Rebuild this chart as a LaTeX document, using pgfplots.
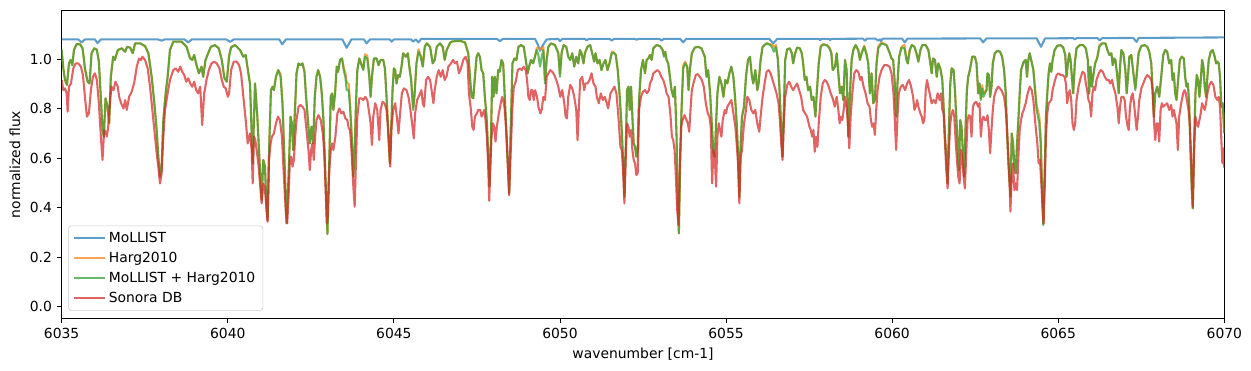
\documentclass[border=0pt]{standalone}
\usepackage{fontspec}
\setmainfont{DejaVu Sans}
\usepackage{pgfplots}
\usepackage{pgfplotstable}
\pgfplotsset{compat=1.18}
\definecolor{cblue}{HTML}{1F77B4}
\definecolor{corange}{HTML}{FF7F0E}
\definecolor{cgreen}{HTML}{2CA02C}
\definecolor{cred}{HTML}{D62728}

\pgfplotstableread{
w f
6035.00 1.080
6035.50 1.080
6035.60 1.068
6035.70 1.080
6036.00 1.080
6036.08 1.065
6036.18 1.080
6037.90 1.080
6038.01 1.075
6038.10 1.080
6038.70 1.080
6038.81 1.068
6038.92 1.080
6039.95 1.080
6040.07 1.070
6040.18 1.080
6041.55 1.080
6041.64 1.060
6041.75 1.080
6043.45 1.080
6043.58 1.046
6043.72 1.080
6044.10 1.080
6044.18 1.064
6044.28 1.080
6044.88 1.080
6044.93 1.071
6045.00 1.080
6045.52 1.080
6045.58 1.071
6045.66 1.080
6045.74 1.068
6045.82 1.082
6048.10 1.082
6048.19 1.073
6048.28 1.082
6049.25 1.082
6049.33 1.060
6049.40 1.034
6049.50 1.060
6049.60 1.080
6049.95 1.082
6050.00 1.073
6050.07 1.082
6050.75 1.082
6050.80 1.076
6050.86 1.082
6051.50 1.082
6051.56 1.075
6051.62 1.082
6052.25 1.082
6052.31 1.079
6052.37 1.082
6053.00 1.082
6053.06 1.075
6053.12 1.082
6053.62 1.082
6053.71 1.068
6053.80 1.082
6056.30 1.082
6056.42 1.064
6056.54 1.082
6057.80 1.082
6057.83 1.077
6057.87 1.082
6058.10 1.082
6058.13 1.077
6058.17 1.082
6059.12 1.083
6059.18 1.075
6059.24 1.083
6059.50 1.083
6059.58 1.075
6059.63 1.080
6059.66 1.073
6059.72 1.083
6060.30 1.083
6060.38 1.068
6060.46 1.083
6062.65 1.084
6062.74 1.068
6062.84 1.084
6064.35 1.084
6064.48 1.050
6064.60 1.084
6065.45 1.085
6065.50 1.080
6065.55 1.085
6066.18 1.085
6066.25 1.076
6066.32 1.085
6067.25 1.086
6067.30 1.079
6067.36 1.070
6067.42 1.086
6070.00 1.088
}\mollist

\pgfplotstableread{
w h m
6035.00 1.037 1.037
6035.05 0.963 0.963
6035.10 0.916 0.916
6035.16 0.896 0.896
6035.22 0.983 0.983
6035.27 0.997 0.997
6035.32 0.976 0.976
6035.37 1.037 1.037
6035.45 1.061 1.061
6035.55 1.062 1.060
6035.63 1.044 1.044
6035.70 0.963 0.963
6035.78 0.909 0.909
6035.84 0.902 0.902
6035.90 1.024 1.024
6035.98 1.044 1.044
6036.06 1.040 1.037
6036.12 0.990 0.990
6036.18 0.842 0.842
6036.23 0.714 0.714
6036.27 0.687 0.687
6036.32 0.842 0.842
6036.38 0.808 0.808
6036.43 0.741 0.741
6036.48 0.929 0.929
6036.55 1.010 1.010
6036.60 0.997 0.997
6036.69 1.037 1.037
6036.81 1.044 1.044
6036.91 1.030 1.030
6036.97 1.050 1.050
6037.06 1.047 1.047
6037.14 1.024 1.024
6037.21 1.064 1.064
6037.36 1.064 1.064
6037.51 1.053 1.053
6037.61 1.024 1.024
6037.71 0.929 0.929
6037.79 0.822 0.822
6037.86 0.714 0.714
6037.91 0.606 0.606
6037.96 0.525 0.525
6038.01 0.570 0.566
6038.06 0.754 0.754
6038.13 0.862 0.862
6038.19 0.929 0.929
6038.26 1.037 1.037
6038.36 1.071 1.071
6038.61 1.071 1.071
6038.76 1.050 1.050
6038.86 1.010 1.003
6038.93 0.997 0.997
6038.99 1.017 1.017
6039.06 0.976 0.976
6039.13 0.943 0.943
6039.21 0.970 0.970
6039.26 0.929 0.929
6039.33 0.997 0.997
6039.41 1.024 1.024
6039.49 1.050 1.050
6039.61 1.057 1.057
6039.73 1.044 1.044
6039.82 0.997 0.997
6039.90 0.923 0.923
6039.97 0.909 0.909
6040.04 1.018 1.010
6040.10 1.050 1.047
6040.22 1.057 1.057
6040.37 1.037 1.037
6040.47 1.010 1.010
6040.54 1.017 1.017
6040.62 0.943 0.943
6040.67 0.900 0.900
6040.75 0.579 0.579
6040.82 0.902 0.902
6040.85 0.848 0.848
6040.89 0.768 0.768
6040.95 0.606 0.606
6041.02 0.431 0.431
6041.07 0.593 0.593
6041.12 0.566 0.566
6041.17 0.390 0.390
6041.20 0.350 0.350
6041.25 0.660 0.660
6041.30 0.875 0.875
6041.35 0.889 0.889
6041.39 0.875 0.875
6041.45 0.929 0.929
6041.52 0.956 0.956
6041.59 0.940 0.929
6041.65 0.823 0.808
6041.71 0.585 0.579
6041.77 0.337 0.337
6041.83 0.525 0.525
6041.89 0.768 0.768
6041.93 0.741 0.741
6041.97 0.633 0.633
6042.01 0.754 0.754
6042.07 0.943 0.943
6042.13 0.983 0.983
6042.19 0.976 0.976
6042.25 0.983 0.983
6042.31 0.949 0.949
6042.35 0.862 0.862
6042.42 0.741 0.741
6042.47 0.660 0.660
6042.52 0.727 0.727
6042.57 0.660 0.660
6042.62 0.848 0.848
6042.67 0.929 0.929
6042.72 0.956 0.956
6042.78 0.929 0.929
6042.83 0.862 0.862
6042.88 0.754 0.754
6042.94 0.525 0.525
6043.00 0.294 0.294
6043.05 0.552 0.552
6043.10 0.848 0.848
6043.14 0.862 0.862
6043.18 0.795 0.795
6043.23 0.862 0.862
6043.28 0.970 0.970
6043.32 0.949 0.949
6043.38 0.997 0.997
6043.44 1.003 1.003
6043.50 0.960 0.949
6043.54 0.945 0.929
6043.58 0.908 0.875
6043.64 0.900 0.875
6043.68 0.825 0.808
6043.73 0.695 0.687
6043.78 0.525 0.525
6043.82 0.633 0.633
6043.86 0.822 0.822
6043.90 0.956 0.956
6043.96 1.003 1.003
6044.03 0.976 0.976
6044.08 0.960 0.956
6044.13 1.020 1.010
6044.20 1.015 1.003
6044.26 0.935 0.929
6044.30 0.848 0.848
6044.34 0.929 0.929
6044.40 1.003 1.003
6044.48 1.003 1.003
6044.54 0.976 0.976
6044.60 0.997 0.997
6044.68 0.997 0.997
6044.73 0.963 0.963
6044.78 0.848 0.848
6044.83 0.714 0.714
6044.88 0.579 0.579
6044.92 0.714 0.714
6044.96 0.875 0.875
6045.00 0.963 0.963
6045.04 0.956 0.956
6045.08 0.902 0.902
6045.13 0.936 0.936
6045.18 0.929 0.929
6045.23 0.970 0.970
6045.28 1.024 1.024
6045.36 1.010 1.010
6045.42 1.024 1.024
6045.46 0.976 0.976
6045.52 0.916 0.916
6045.58 0.805 0.795
6045.62 0.855 0.848
6045.68 0.983 0.983
6045.74 1.040 1.030
6045.81 1.015 1.010
6045.87 0.970 0.970
6045.93 1.050 1.050
6045.99 1.064 1.064
6046.09 1.050 1.050
6046.17 0.983 0.983
6046.23 0.997 0.997
6046.29 1.050 1.050
6046.39 1.064 1.064
6046.47 1.050 1.050
6046.53 0.997 0.997
6046.59 1.037 1.037
6046.69 1.066 1.066
6046.74 1.071 1.071
6046.90 1.074 1.074
6047.02 1.073 1.073
6047.14 1.068 1.068
6047.24 1.024 1.024
6047.29 0.929 0.929
6047.34 0.848 0.848
6047.39 0.842 0.842
6047.44 0.929 0.929
6047.49 1.010 1.010
6047.54 1.024 1.024
6047.59 1.010 1.010
6047.64 0.956 0.956
6047.69 0.943 0.943
6047.74 0.848 0.848
6047.79 0.768 0.768
6047.84 0.620 0.620
6047.88 0.485 0.485
6047.92 0.660 0.660
6047.96 0.929 0.929
6048.00 0.848 0.848
6048.04 0.929 0.929
6048.09 0.862 0.862
6048.14 0.956 0.956
6048.19 0.955 0.949
6048.24 0.997 0.997
6048.29 0.983 0.983
6048.34 0.848 0.848
6048.39 0.687 0.687
6048.44 0.552 0.552
6048.47 0.458 0.458
6048.52 0.727 0.727
6048.57 0.983 0.983
6048.63 1.003 1.003
6048.69 0.997 0.997
6048.75 1.050 1.050
6048.83 1.057 1.057
6048.91 1.050 1.050
6048.97 0.997 0.997
6049.03 0.943 0.943
6049.07 0.970 0.970
6049.13 0.997 0.997
6049.19 0.983 0.983
6049.25 1.012 1.010
6049.30 1.045 1.037
6049.35 1.045 1.017
6049.40 1.044 0.970
6049.45 1.040 1.010
6049.50 1.050 1.037
6049.55 0.915 0.902
6049.60 1.000 0.997
6049.65 1.050 1.050
6049.73 1.064 1.064
6049.85 1.057 1.057
6049.95 1.026 1.024
6050.00 0.940 0.929
6050.05 1.028 1.024
6050.11 1.057 1.057
6050.19 1.050 1.050
6050.25 1.010 1.010
6050.31 0.997 0.997
6050.37 1.024 1.024
6050.43 0.970 0.970
6050.49 1.010 1.010
6050.55 0.983 0.983
6050.60 1.037 1.037
6050.65 1.024 1.024
6050.71 0.983 0.983
6050.75 1.024 1.024
6050.83 1.052 1.050
6050.91 1.057 1.057
6050.97 1.024 1.024
6051.03 0.990 0.990
6051.07 1.024 1.024
6051.13 0.983 0.983
6051.19 0.997 0.997
6051.25 0.956 0.956
6051.31 0.983 0.983
6051.37 0.997 0.997
6051.43 0.956 0.956
6051.49 0.983 0.983
6051.56 1.030 1.024
6051.62 1.028 1.026
6051.68 1.017 1.017
6051.74 0.956 0.956
6051.80 0.848 0.848
6051.86 0.714 0.714
6051.90 0.593 0.593
6051.94 0.444 0.444
6051.98 0.633 0.633
6052.02 0.875 0.875
6052.06 0.889 0.889
6052.10 0.795 0.795
6052.14 0.889 0.889
6052.18 0.768 0.768
6052.22 0.660 0.660
6052.26 0.646 0.646
6052.30 0.606 0.606
6052.34 0.633 0.633
6052.38 0.835 0.835
6052.44 0.956 0.956
6052.50 0.997 0.997
6052.56 0.943 0.943
6052.61 0.997 0.997
6052.66 1.003 1.003
6052.71 1.017 1.017
6052.76 0.997 0.997
6052.81 1.044 1.044
6052.91 1.057 1.057
6053.01 1.053 1.053
6053.09 1.040 1.037
6053.13 1.015 1.010
6053.17 1.030 1.030
6053.21 0.997 0.997
6053.26 0.983 0.983
6053.31 0.929 0.929
6053.36 0.875 0.875
6053.41 0.848 0.848
6053.46 0.889 0.889
6053.51 0.687 0.687
6053.55 0.390 0.390
6053.58 0.296 0.296
6053.62 0.593 0.593
6053.66 0.800 0.795
6053.71 0.975 0.963
6053.77 0.990 0.983
6053.83 0.970 0.970
6053.87 0.875 0.875
6053.91 0.956 0.956
6053.97 1.024 1.024
6054.06 1.047 1.047
6054.16 1.050 1.050
6054.26 1.044 1.044
6054.36 1.010 1.010
6054.41 0.929 0.929
6054.46 0.956 0.956
6054.52 0.862 0.862
6054.57 0.741 0.741
6054.62 0.620 0.620
6054.66 0.606 0.606
6054.70 0.741 0.741
6054.74 0.862 0.862
6054.80 0.929 0.929
6054.86 0.902 0.902
6054.92 0.848 0.848
6054.98 0.916 0.916
6055.04 0.902 0.902
6055.10 0.943 0.943
6055.16 0.970 0.970
6055.22 0.929 0.929
6055.27 0.848 0.848
6055.32 0.741 0.741
6055.36 0.620 0.620
6055.40 0.444 0.444
6055.44 0.660 0.660
6055.48 0.768 0.768
6055.54 0.808 0.808
6055.60 0.929 0.929
6055.66 0.997 0.997
6055.72 1.010 1.010
6055.78 0.929 0.929
6055.82 0.902 0.902
6055.88 0.956 0.956
6055.94 0.875 0.875
6055.98 0.902 0.902
6056.04 0.997 0.997
6056.10 1.050 1.050
6056.22 1.064 1.064
6056.34 1.060 1.057
6056.40 1.058 1.044
6056.44 1.050 1.030
6056.50 1.058 1.050
6056.56 1.002 0.997
6056.62 0.848 0.848
6056.67 0.687 0.687
6056.70 0.606 0.606
6056.74 0.795 0.795
6056.78 0.997 0.997
6056.84 1.040 1.040
6056.92 1.044 1.044
6056.98 1.024 1.024
6057.02 0.983 0.983
6057.08 1.024 1.024
6057.14 1.047 1.047
6057.22 1.044 1.044
6057.28 1.024 1.024
6057.32 0.983 0.983
6057.37 0.916 0.916
6057.42 0.929 0.929
6057.47 0.875 0.875
6057.53 0.889 0.889
6057.58 0.835 0.835
6057.63 0.848 0.848
6057.69 0.768 0.768
6057.73 0.862 0.862
6057.79 0.983 0.983
6057.85 1.054 1.050
6057.93 1.060 1.060
6058.03 1.057 1.057
6058.11 1.048 1.044
6058.17 1.028 1.024
6058.21 0.956 0.956
6058.28 0.970 0.970
6058.33 1.024 1.024
6058.38 0.943 0.943
6058.43 0.862 0.862
6058.48 0.889 0.889
6058.53 0.835 0.835
6058.58 0.997 0.997
6058.63 0.956 0.956
6058.68 0.687 0.687
6058.73 0.862 0.862
6058.78 0.997 0.997
6058.83 1.037 1.037
6058.90 1.057 1.057
6058.98 1.037 1.037
6059.03 0.997 0.997
6059.08 1.024 1.024
6059.16 1.055 1.050
6059.23 1.022 1.017
6059.28 0.983 0.983
6059.33 0.862 0.862
6059.38 0.943 0.943
6059.43 0.822 0.822
6059.48 0.835 0.835
6059.53 0.983 0.983
6059.58 1.052 1.044
6059.68 1.068 1.064
6059.83 1.057 1.057
6059.93 1.024 1.024
6059.98 1.003 1.003
6060.03 0.997 0.997
6060.08 0.902 0.902
6060.12 0.768 0.768
6060.16 0.902 0.902
6060.21 1.010 1.010
6060.28 1.050 1.047
6060.37 1.058 1.044
6060.43 1.005 0.997
6060.47 0.983 0.983
6060.53 1.037 1.037
6060.59 1.057 1.057
6060.67 1.050 1.050
6060.73 1.024 1.024
6060.79 0.990 0.990
6060.85 1.037 1.037
6060.91 1.057 1.057
6061.01 1.057 1.057
6061.09 1.037 1.037
6061.15 0.983 0.983
6061.19 0.943 0.943
6061.23 1.003 1.003
6061.29 0.997 0.997
6061.34 0.929 0.929
6061.39 0.983 0.983
6061.45 0.963 0.963
6061.51 0.916 0.916
6061.55 0.808 0.808
6061.59 0.687 0.687
6061.63 0.606 0.606
6061.67 0.498 0.498
6061.71 0.727 0.727
6061.75 0.902 0.902
6061.79 0.963 0.963
6061.85 0.956 0.956
6061.89 0.875 0.875
6061.93 0.768 0.768
6061.97 0.660 0.660
6062.01 0.552 0.552
6062.05 0.754 0.754
6062.09 0.727 0.727
6062.13 0.620 0.620
6062.17 0.525 0.525
6062.21 0.727 0.727
6062.25 0.875 0.875
6062.29 0.929 0.929
6062.34 0.956 0.956
6062.41 1.010 1.010
6062.49 1.010 1.010
6062.54 0.983 0.983
6062.59 0.862 0.862
6062.63 0.902 0.902
6062.67 0.842 0.835
6062.71 0.895 0.882
6062.75 0.862 0.848
6062.79 0.870 0.862
6062.84 0.875 0.875
6062.87 0.943 0.943
6062.91 0.936 0.936
6062.95 0.848 0.848
6062.99 0.889 0.889
6063.03 0.983 0.983
6063.09 1.024 1.024
6063.17 1.034 1.034
6063.25 1.030 1.030
6063.31 1.010 1.010
6063.37 0.956 0.956
6063.42 0.862 0.862
6063.46 0.700 0.700
6063.50 0.579 0.579
6063.56 0.444 0.444
6063.60 0.700 0.700
6063.64 0.660 0.660
6063.68 0.566 0.566
6063.72 0.539 0.539
6063.76 0.660 0.660
6063.80 0.754 0.754
6063.84 0.862 0.862
6063.88 0.956 0.956
6063.96 0.990 0.990
6064.02 0.997 0.997
6064.06 0.929 0.929
6064.10 0.997 0.997
6064.14 1.024 1.024
6064.25 0.960 0.956
6064.35 0.810 0.795
6064.43 0.770 0.741
6064.47 0.690 0.660
6064.52 0.460 0.444
6064.55 0.335 0.330
6064.59 0.535 0.525
6064.63 0.775 0.768
6064.67 0.862 0.862
6064.71 0.943 0.943
6064.75 0.983 0.983
6064.79 0.949 0.949
6064.83 0.997 0.997
6064.89 1.037 1.037
6064.97 1.054 1.054
6065.07 1.057 1.057
6065.15 1.047 1.047
6065.21 1.017 1.017
6065.25 0.929 0.929
6065.29 0.983 0.983
6065.33 1.024 1.024
6065.37 0.997 0.997
6065.41 0.929 0.929
6065.45 0.862 0.862
6065.50 0.990 0.983
6065.55 1.044 1.044
6065.65 1.057 1.057
6065.75 1.057 1.057
6065.83 1.044 1.044
6065.89 0.997 0.997
6065.93 0.862 0.862
6065.97 0.970 0.970
6066.01 0.889 0.889
6066.05 0.929 0.929
6066.11 0.983 0.983
6066.17 1.005 1.003
6066.24 1.058 1.050
6066.32 1.064 1.064
6066.42 1.064 1.064
6066.48 1.037 1.037
6066.54 1.017 1.017
6066.60 1.024 1.024
6066.64 0.976 0.976
6066.68 1.003 1.003
6066.72 0.997 0.997
6066.78 0.929 0.929
6066.82 0.862 0.862
6066.86 0.970 0.970
6066.90 1.037 1.037
6066.96 1.024 1.024
6067.02 0.956 0.956
6067.06 0.862 0.862
6067.10 0.929 0.929
6067.14 1.010 1.010
6067.20 1.017 1.017
6067.26 0.950 0.943
6067.32 0.885 0.875
6067.36 0.945 0.929
6067.42 1.030 1.024
6067.50 1.053 1.053
6067.60 1.057 1.057
6067.68 1.050 1.050
6067.74 1.030 1.030
6067.80 0.983 0.983
6067.84 0.875 0.875
6067.88 0.768 0.768
6067.92 0.862 0.862
6067.98 0.889 0.889
6068.04 0.848 0.848
6068.10 0.929 0.929
6068.16 1.017 1.017
6068.22 1.037 1.037
6068.28 1.030 1.030
6068.34 0.983 0.983
6068.40 0.997 0.997
6068.44 0.916 0.916
6068.48 0.943 0.943
6068.52 0.862 0.862
6068.56 0.835 0.835
6068.60 0.902 0.902
6068.66 0.997 0.997
6068.72 1.010 1.010
6068.78 1.003 1.003
6068.82 0.929 0.929
6068.86 0.889 0.889
6068.90 0.902 0.902
6068.94 0.822 0.822
6068.98 0.633 0.633
6069.02 0.471 0.471
6069.05 0.397 0.397
6069.09 0.660 0.660
6069.13 0.862 0.862
6069.17 0.936 0.936
6069.21 0.916 0.916
6069.25 0.848 0.848
6069.29 0.916 0.916
6069.33 0.997 0.997
6069.37 0.970 0.970
6069.41 0.889 0.889
6069.45 0.848 0.848
6069.49 0.929 0.929
6069.53 0.997 0.997
6069.59 1.030 1.030
6069.65 1.037 1.037
6069.71 1.010 1.010
6069.75 0.983 0.983
6069.79 0.990 0.990
6069.83 0.983 0.983
6069.87 0.929 0.929
6069.91 0.808 0.808
6069.95 0.822 0.822
6070.00 0.700 0.700
}\harg

\pgfplotstableread{
w f
6035.00 0.916
6035.05 0.875
6035.10 0.882
6035.15 0.862
6035.18 0.788
6035.22 0.889
6035.28 0.902
6035.35 0.963
6035.42 0.983
6035.50 0.983
6035.58 0.970
6035.64 0.936
6035.70 0.848
6035.76 0.768
6035.82 0.781
6035.88 0.875
6035.94 0.929
6036.00 0.943
6036.06 0.916
6036.12 0.822
6036.18 0.687
6036.23 0.593
6036.28 0.714
6036.32 0.707
6036.36 0.687
6036.40 0.727
6036.45 0.822
6036.50 0.889
6036.56 0.875
6036.62 0.909
6036.69 0.889
6036.73 0.848
6036.79 0.822
6036.86 0.801
6036.91 0.835
6036.96 0.795
6037.03 0.848
6037.11 0.869
6037.19 0.909
6037.26 0.970
6037.33 1.003
6037.39 0.997
6037.43 1.010
6037.51 0.997
6037.59 0.963
6037.66 0.889
6037.73 0.795
6037.81 0.687
6037.86 0.620
6037.91 0.566
6037.96 0.498
6038.01 0.539
6038.05 0.660
6038.11 0.795
6038.19 0.862
6038.26 0.916
6038.36 0.956
6038.43 0.963
6038.51 0.949
6038.57 0.970
6038.63 0.949
6038.69 0.936
6038.75 0.909
6038.81 0.923
6038.87 0.902
6038.93 0.889
6038.99 0.909
6039.05 0.875
6039.11 0.862
6039.17 0.889
6039.23 0.734
6039.29 0.862
6039.36 0.916
6039.43 0.956
6039.51 0.983
6039.59 0.990
6039.67 0.983
6039.75 0.963
6039.82 0.916
6039.88 0.889
6039.94 0.882
6040.00 0.848
6040.04 0.862
6040.10 0.956
6040.18 0.990
6040.27 0.990
6040.34 0.976
6040.40 0.943
6040.47 0.848
6040.54 0.754
6040.60 0.660
6040.67 0.700
6040.72 0.633
6040.75 0.498
6040.79 0.687
6040.83 0.673
6040.87 0.633
6040.93 0.566
6040.97 0.498
6041.02 0.417
6041.07 0.498
6041.12 0.471
6041.17 0.390
6041.20 0.343
6041.24 0.593
6041.29 0.660
6041.33 0.687
6041.39 0.700
6041.45 0.741
6041.51 0.768
6041.57 0.754
6041.63 0.687
6041.69 0.525
6041.75 0.377
6041.79 0.337
6041.83 0.444
6041.87 0.593
6041.91 0.606
6041.95 0.566
6041.99 0.593
6042.03 0.687
6042.07 0.754
6042.13 0.808
6042.19 0.815
6042.25 0.808
6042.31 0.795
6042.35 0.741
6042.39 0.687
6042.43 0.633
6042.47 0.552
6042.51 0.633
6042.55 0.660
6042.59 0.593
6042.63 0.687
6042.67 0.754
6042.73 0.774
6042.80 0.754
6042.86 0.700
6042.90 0.633
6042.94 0.498
6042.98 0.337
6043.01 0.364
6043.05 0.539
6043.10 0.633
6043.14 0.660
6043.18 0.633
6043.24 0.687
6043.30 0.781
6043.36 0.801
6043.42 0.781
6043.48 0.788
6043.54 0.761
6043.60 0.754
6043.64 0.721
6043.68 0.714
6043.73 0.620
6043.78 0.485
6043.82 0.404
6043.86 0.593
6043.90 0.768
6043.96 0.842
6044.02 0.842
6044.08 0.835
6044.14 0.848
6044.20 0.835
6044.26 0.781
6044.30 0.741
6044.34 0.653
6044.38 0.768
6044.44 0.822
6044.50 0.795
6044.56 0.673
6044.60 0.795
6044.66 0.828
6044.72 0.822
6044.78 0.795
6044.82 0.727
6044.86 0.633
6044.89 0.566
6044.93 0.727
6044.98 0.795
6045.04 0.822
6045.10 0.754
6045.14 0.700
6045.18 0.768
6045.24 0.862
6045.30 0.882
6045.38 0.875
6045.44 0.848
6045.50 0.795
6045.56 0.727
6045.60 0.680
6045.64 0.781
6045.70 0.835
6045.77 0.855
6045.83 0.875
6045.87 0.822
6045.91 0.808
6045.97 0.916
6046.03 0.929
6046.09 0.916
6046.15 0.862
6046.19 0.822
6046.23 0.875
6046.29 0.929
6046.35 0.956
6046.41 0.929
6046.47 0.956
6046.53 0.916
6046.59 0.932
6046.64 0.970
6046.72 0.983
6046.78 0.997
6046.84 0.983
6046.90 0.990
6046.96 0.943
6047.02 0.963
6047.09 0.997
6047.16 1.010
6047.22 0.983
6047.26 0.862
6047.32 0.795
6047.36 0.727
6047.40 0.714
6047.44 0.768
6047.50 0.781
6047.54 0.795
6047.60 0.795
6047.64 0.768
6047.68 0.781
6047.72 0.795
6047.76 0.754
6047.80 0.687
6047.84 0.566
6047.87 0.428
6047.90 0.552
6047.94 0.687
6047.98 0.741
6048.02 0.727
6048.06 0.667
6048.10 0.727
6048.16 0.781
6048.22 0.822
6048.26 0.848
6048.30 0.835
6048.34 0.795
6048.39 0.700
6048.43 0.579
6048.47 0.451
6048.52 0.633
6048.57 0.808
6048.61 0.889
6048.67 0.909
6048.73 0.956
6048.79 0.963
6048.85 0.956
6048.91 0.970
6048.97 0.956
6049.01 0.916
6049.05 0.848
6049.09 0.835
6049.13 0.875
6049.17 0.875
6049.21 0.835
6049.25 0.875
6049.31 0.848
6049.35 0.808
6049.41 0.781
6049.45 0.795
6049.50 0.848
6049.55 0.835
6049.60 0.929
6049.65 0.943
6049.71 0.956
6049.77 0.949
6049.83 0.936
6049.89 0.916
6049.95 0.889
6050.01 0.848
6050.07 0.875
6050.13 0.822
6050.17 0.768
6050.21 0.761
6050.25 0.848
6050.31 0.896
6050.37 0.882
6050.43 0.848
6050.49 0.795
6050.53 0.673
6050.57 0.808
6050.61 0.916
6050.67 0.929
6050.73 0.875
6050.77 0.902
6050.83 0.902
6050.89 0.916
6050.95 0.943
6051.01 0.902
6051.07 0.889
6051.11 0.848
6051.17 0.822
6051.23 0.862
6051.29 0.835
6051.35 0.848
6051.41 0.822
6051.45 0.801
6051.52 0.862
6051.58 0.875
6051.64 0.889
6051.70 0.862
6051.76 0.768
6051.82 0.646
6051.86 0.633
6051.90 0.552
6051.94 0.417
6051.98 0.606
6052.02 0.741
6052.06 0.727
6052.10 0.687
6052.14 0.714
6052.18 0.633
6052.22 0.593
6052.26 0.579
6052.30 0.532
6052.34 0.539
6052.38 0.795
6052.44 0.848
6052.50 0.869
6052.56 0.875
6052.62 0.862
6052.68 0.875
6052.71 0.902
6052.76 0.916
6052.81 0.943
6052.87 0.949
6052.93 0.956
6052.99 0.949
6053.05 0.929
6053.11 0.916
6053.17 0.889
6053.21 0.862
6053.27 0.848
6053.33 0.768
6053.37 0.687
6053.41 0.673
6053.45 0.633
6053.49 0.525
6053.53 0.390
6053.57 0.330
6053.61 0.593
6053.65 0.727
6053.69 0.754
6053.75 0.774
6053.81 0.754
6053.85 0.741
6053.89 0.707
6053.93 0.795
6053.97 0.875
6054.03 0.909
6054.09 0.936
6054.15 0.940
6054.21 0.929
6054.27 0.916
6054.33 0.889
6054.39 0.822
6054.45 0.781
6054.50 0.768
6054.54 0.727
6054.58 0.498
6054.62 0.633
6054.66 0.606
6054.70 0.485
6054.74 0.687
6054.78 0.741
6054.82 0.714
6054.86 0.687
6054.90 0.754
6054.96 0.795
6055.00 0.781
6055.04 0.808
6055.10 0.822
6055.16 0.835
6055.22 0.781
6055.28 0.727
6055.32 0.660
6055.36 0.579
6055.40 0.417
6055.44 0.606
6055.48 0.633
6055.54 0.741
6055.60 0.795
6055.64 0.848
6055.70 0.835
6055.76 0.795
6055.82 0.781
6055.88 0.795
6055.94 0.741
6056.00 0.707
6056.04 0.768
6056.10 0.848
6056.16 0.902
6056.22 0.949
6056.28 0.956
6056.34 0.943
6056.40 0.916
6056.46 0.889
6056.52 0.862
6056.58 0.822
6056.62 0.754
6056.66 0.660
6056.70 0.593
6056.74 0.741
6056.78 0.848
6056.84 0.896
6056.90 0.909
6056.96 0.889
6057.02 0.875
6057.08 0.889
6057.14 0.902
6057.20 0.875
6057.26 0.848
6057.32 0.795
6057.38 0.781
6057.44 0.768
6057.51 0.727
6057.55 0.714
6057.59 0.687
6057.63 0.714
6057.67 0.626
6057.71 0.687
6057.75 0.646
6057.79 0.741
6057.85 0.848
6057.91 0.902
6057.97 0.916
6058.03 0.909
6058.09 0.889
6058.15 0.862
6058.21 0.842
6058.27 0.808
6058.33 0.848
6058.38 0.795
6058.42 0.741
6058.46 0.768
6058.50 0.754
6058.54 0.795
6058.58 0.848
6058.64 0.795
6058.68 0.714
6058.71 0.640
6058.75 0.768
6058.80 0.862
6058.86 0.943
6058.92 0.956
6058.98 0.949
6059.04 0.916
6059.08 0.929
6059.14 0.889
6059.20 0.862
6059.26 0.822
6059.32 0.808
6059.36 0.754
6059.40 0.727
6059.44 0.741
6059.48 0.694
6059.52 0.795
6059.56 0.875
6059.62 0.929
6059.68 0.956
6059.76 0.976
6059.84 0.976
6059.92 0.970
6059.98 0.943
6060.04 0.862
6060.08 0.754
6060.12 0.633
6060.16 0.768
6060.20 0.862
6060.26 0.889
6060.32 0.896
6060.39 0.875
6060.45 0.902
6060.51 0.916
6060.57 0.889
6060.63 0.848
6060.67 0.795
6060.71 0.808
6060.75 0.835
6060.79 0.808
6060.85 0.781
6060.89 0.768
6060.93 0.741
6060.97 0.754
6061.01 0.875
6061.05 0.916
6061.11 0.875
6061.15 0.848
6061.19 0.822
6061.25 0.835
6061.31 0.822
6061.37 0.862
6061.43 0.835
6061.47 0.862
6061.51 0.795
6061.55 0.781
6061.59 0.660
6061.63 0.552
6061.67 0.478
6061.71 0.633
6061.75 0.741
6061.79 0.781
6061.83 0.795
6061.87 0.768
6061.91 0.673
6061.95 0.593
6061.99 0.525
6062.03 0.498
6062.07 0.633
6062.11 0.606
6062.15 0.525
6062.19 0.478
6062.23 0.620
6062.27 0.754
6062.31 0.774
6062.35 0.768
6062.39 0.687
6062.43 0.808
6062.47 0.822
6062.53 0.828
6062.59 0.808
6062.63 0.822
6062.67 0.687
6062.71 0.754
6062.75 0.768
6062.79 0.754
6062.83 0.754
6062.87 0.774
6062.91 0.714
6062.95 0.620
6062.99 0.714
6063.03 0.795
6063.07 0.848
6063.13 0.875
6063.19 0.889
6063.25 0.882
6063.31 0.869
6063.37 0.848
6063.42 0.795
6063.46 0.714
6063.50 0.606
6063.54 0.485
6063.56 0.384
6063.60 0.525
6063.64 0.579
6063.68 0.471
6063.72 0.498
6063.76 0.471
6063.80 0.606
6063.84 0.714
6063.88 0.754
6063.92 0.781
6063.96 0.795
6064.02 0.822
6064.08 0.862
6064.14 0.889
6064.20 0.875
6064.25 0.835
6064.31 0.741
6064.37 0.660
6064.41 0.579
6064.45 0.593
6064.49 0.498
6064.53 0.390
6064.56 0.337
6064.59 0.471
6064.63 0.687
6064.67 0.781
6064.71 0.822
6064.75 0.828
6064.79 0.835
6064.83 0.875
6064.89 0.909
6064.95 0.936
6065.01 0.943
6065.07 0.936
6065.13 0.936
6065.19 0.929
6065.23 0.902
6065.27 0.822
6065.31 0.862
6065.35 0.875
6065.39 0.835
6065.43 0.741
6065.47 0.714
6065.51 0.741
6065.55 0.835
6065.61 0.889
6065.67 0.923
6065.73 0.949
6065.79 0.943
6065.83 0.902
6065.87 0.875
6065.91 0.835
6065.95 0.822
6065.99 0.768
6066.03 0.862
6066.07 0.889
6066.11 0.875
6066.15 0.916
6066.22 0.943
6066.28 0.956
6066.34 0.949
6066.40 0.929
6066.46 0.916
6066.52 0.916
6066.56 0.902
6066.62 0.916
6066.66 0.889
6066.72 0.862
6066.78 0.808
6066.82 0.741
6066.86 0.808
6066.90 0.848
6066.96 0.848
6067.00 0.835
6067.04 0.768
6067.08 0.734
6067.12 0.714
6067.16 0.808
6067.20 0.848
6067.24 0.862
6067.28 0.822
6067.32 0.768
6067.36 0.714
6067.40 0.768
6067.44 0.835
6067.50 0.882
6067.56 0.902
6067.62 0.923
6067.68 0.936
6067.74 0.929
6067.80 0.916
6067.84 0.875
6067.88 0.754
6067.92 0.673
6067.96 0.741
6068.00 0.741
6068.04 0.667
6068.08 0.795
6068.12 0.822
6068.16 0.808
6068.22 0.815
6068.28 0.822
6068.34 0.795
6068.40 0.815
6068.44 0.768
6068.48 0.795
6068.52 0.768
6068.56 0.741
6068.60 0.633
6068.64 0.768
6068.70 0.822
6068.76 0.862
6068.80 0.875
6068.84 0.862
6068.88 0.828
6068.92 0.795
6068.96 0.741
6069.00 0.606
6069.05 0.404
6069.09 0.633
6069.13 0.768
6069.17 0.741
6069.21 0.727
6069.25 0.754
6069.29 0.781
6069.33 0.822
6069.37 0.808
6069.41 0.795
6069.45 0.822
6069.49 0.862
6069.55 0.896
6069.61 0.909
6069.67 0.896
6069.73 0.848
6069.79 0.835
6069.83 0.848
6069.87 0.808
6069.91 0.673
6069.94 0.580
6069.97 0.640
6070.00 0.560
}\sonora

\begin{document}
\begin{tikzpicture}
\begin{axis}[
  scale only axis,
  width=837.1pt, height=221.5pt,
  xmin=6035, xmax=6070, ymin=-0.047, ymax=1.196,
  xtick={6035,6040,6045,6050,6055,6060,6065,6070},
  ytick={0,0.2,0.4,0.6,0.8,1.0},
  /pgf/number format/assume math mode=true,
  xticklabel style={/pgf/number format/.cd, set thousands separator={}, fixed},
  yticklabel style={/pgf/number format/.cd, fixed, fixed zerofill, precision=1},
  tick label style={font=\fontsize{10}{12}\selectfont},
  label style={font=\fontsize{10}{12}\selectfont},
  xlabel={wavenumber [cm-1]},
  ylabel={normalized flux},
  tick pos=left,
  tick align=outside,
  major tick length=3.5pt,
  every tick/.style={black, line width=0.6pt},
  axis line style={line width=0.6pt},
  legend cell align=left,
  legend style={font=\fontsize{10}{12}\selectfont, draw=black!20, rounded corners=2pt,
    fill=white, fill opacity=0.8, text opacity=1, row sep=1.4pt,
    inner xsep=3.5pt, inner ysep=2.5pt,
    at={(0.0057,0.0247)}, anchor=south west},
  legend image code/.code={\draw[#1] (0pt,0pt) -- (22pt,0pt);},
  every axis plot/.append style={line width=1.5pt, line join=round, draw opacity=0.72},
]
\coordinate (sw) at (rel axis cs:0,0);
\coordinate (ne) at (rel axis cs:1,1);
\addplot[cblue] table[x=w,y=f]{\mollist};
\addlegendentry{MoLLIST}
\addplot[corange] table[x=w,y=h]{\harg};
\addlegendentry{Harg2010}
\addplot[cgreen] table[x=w,y=m]{\harg};
\addlegendentry{MoLLIST + Harg2010}
\addplot[cred] table[x=w,y=f]{\sonora};
\addlegendentry{Sonora DB}
\end{axis}
\pgfresetboundingbox
\path ([xshift=-44.4pt,yshift=-37.9pt]sw) rectangle ([xshift=19.2pt,yshift=7.7pt]ne);
\end{tikzpicture}
\end{document}
